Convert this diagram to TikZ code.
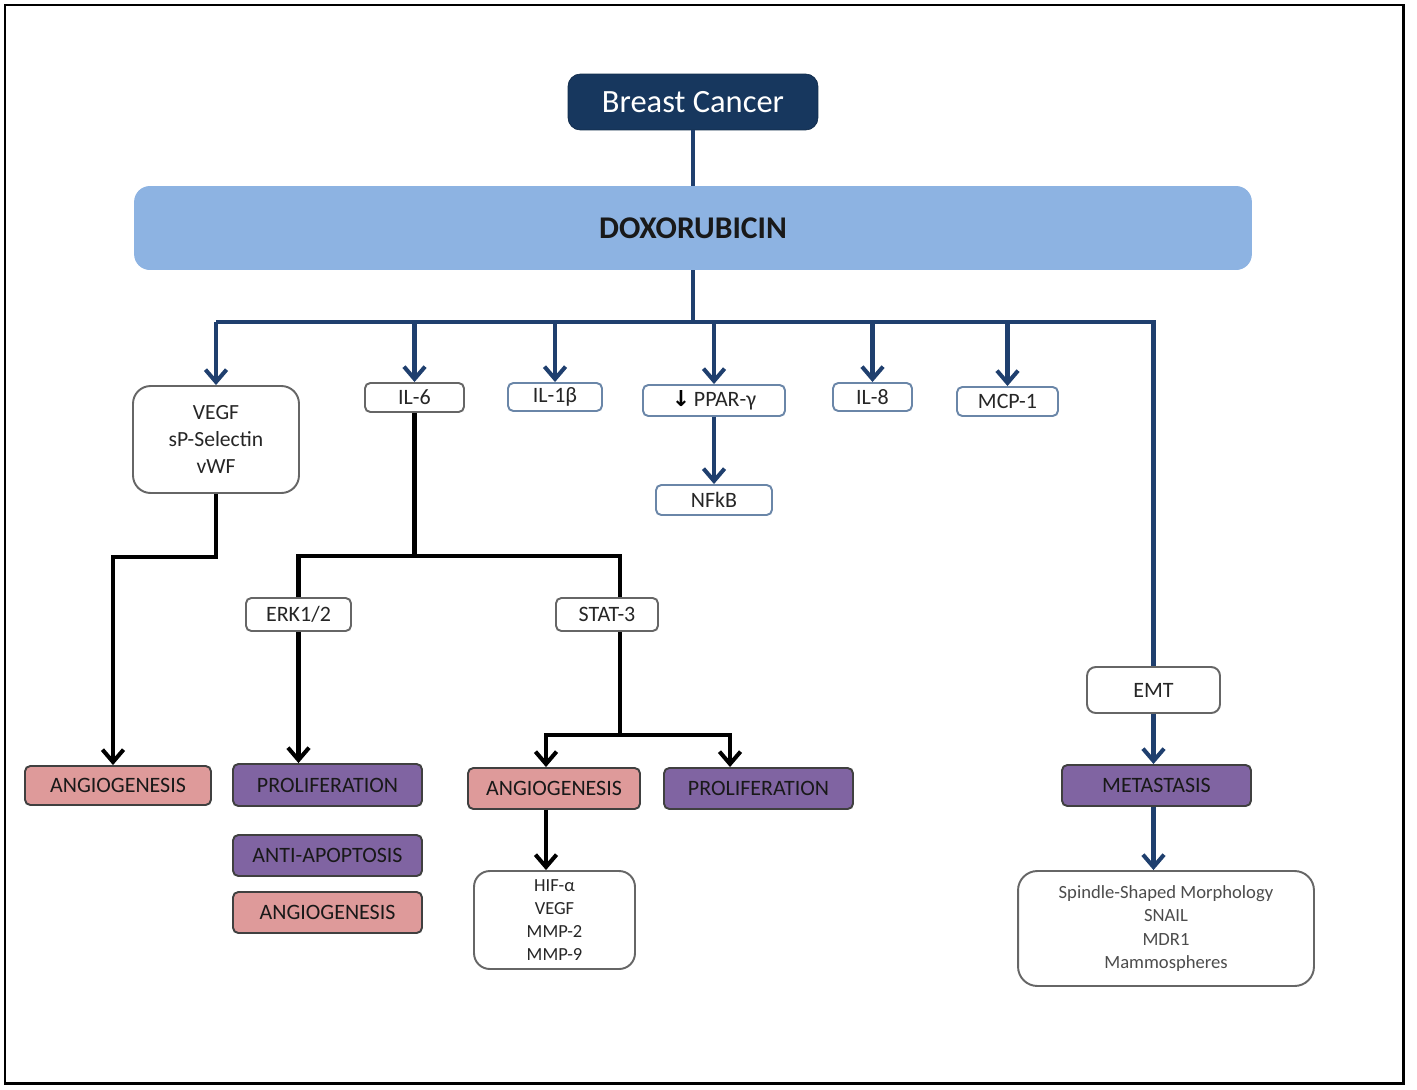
\documentclass[tikz,border=0pt]{standalone}
\usepackage{fontspec}
\setmainfont{Carlito}
\newfontfamily\symfont{DejaVu Sans}
\usetikzlibrary{arrows.meta}
\definecolor{navy}{HTML}{17375E}
\definecolor{doxblue}{HTML}{8DB3E2}
\definecolor{linkblue}{HTML}{1F3F6E}
\definecolor{rose}{HTML}{DE9A9A}
\definecolor{violet}{HTML}{8064A2}
\definecolor{edgeblue}{HTML}{6A86A8}
\begin{document}
\begin{tikzpicture}[x=0.02cm, y=-0.02cm,
    box/.style={draw=gray!80!black, line width=1.1pt, rounded corners=3pt, fill=white,
      inner sep=0pt, align=center, text=black!85, font=\fontsize{12.5}{15}\selectfont},
    bluebox/.style={box, draw=edgeblue},
    listbox/.style={box, rounded corners=9pt},
    effect/.style={box, draw=black!75, text=black!90},
    angio/.style={effect, fill=rose},
    prolif/.style={effect, fill=violet},
    bline/.style={draw=linkblue, line width=2.3pt},
    barrow/.style={bline, -{Straight Barb[length=7pt,width=12pt]}},
    kline/.style={draw=black, line width=2.3pt},
    karrow/.style={kline, -{Straight Barb[length=7pt,width=12pt]}}]
    \useasboundingbox (0,0) rectangle (1417,1089);
    \draw[line width=1.7pt] (5,5) rectangle (1403,1083);

    \node[draw=navy!80!black, fill=navy, rounded corners=7pt, inner sep=0pt,
      minimum width=5cm, minimum height=1.12cm, text=white,
      font=\fontsize{18.5}{22}\selectfont] (bc) at (693,102) {Breast Cancer};
    \node[fill=doxblue, rounded corners=9pt, inner sep=0pt, minimum width=22.36cm,
      minimum height=1.68cm, text=black!90,
      font=\fontsize{18}{22}\selectfont\bfseries] (dox) at (693,228) {DOXORUBICIN};

    \node[box, rounded corners=10pt, minimum width=3.32cm, minimum height=2.14cm,
      font=\fontsize{12.3}{15.6}\selectfont] (vegf) at (216,439.5) {VEGF\\sP-Selectin\\vWF};
    \node[box, minimum width=1.98cm, minimum height=0.58cm] (il6) at (414.5,397.5) {IL-6};
    \node[bluebox, minimum width=1.88cm, minimum height=0.56cm] (il1b) at (555,397) {IL-1β};
    \node[bluebox, minimum width=2.84cm, minimum height=0.62cm] (ppar) at (714,400.5)
      {{\symfont\bfseries\color{black}↓}\,PPAR-γ};
    \node[bluebox, minimum width=2.32cm, minimum height=0.6cm] (nfkb) at (714,500) {NFkB};
    \node[bluebox, minimum width=1.58cm, minimum height=0.56cm] (il8) at (872.5,397) {IL-8};
    \node[bluebox, minimum width=2.02cm, minimum height=0.58cm] (mcp) at (1007.5,401.5) {MCP-1};
    \node[box, rounded corners=5pt, minimum width=2.66cm, minimum height=0.92cm] (emt) at (1153.5,690) {EMT};
    \node[box, minimum width=2.1cm, minimum height=0.66cm] (erk) at (298.5,614.5) {ERK1/2};
    \node[box, minimum width=2.04cm, minimum height=0.66cm] (stat) at (607,614.5) {STAT-3};

    \node[angio, minimum width=3.72cm, minimum height=0.78cm] (ang1) at (118,785.5) {ANGIOGENESIS};
    \node[prolif, minimum width=3.78cm, minimum height=0.84cm] (prol1) at (327.5,785) {PROLIFERATION};
    \node[prolif, minimum width=3.78cm, minimum height=0.82cm] (anti) at (327.5,855.5) {ANTI-APOPTOSIS};
    \node[angio, minimum width=3.78cm, minimum height=0.82cm] (ang2) at (327.5,912.5) {ANGIOGENESIS};
    \node[angio, minimum width=3.44cm, minimum height=0.82cm] (ang3) at (554,788.5) {ANGIOGENESIS};
    \node[prolif, minimum width=3.78cm, minimum height=0.82cm] (prol2) at (758.5,788.5) {PROLIFERATION};
    \node[prolif, minimum width=3.78cm, minimum height=0.82cm] (meta) at (1156.5,785.5) {METASTASIS};

    \node[listbox, minimum width=3.22cm, minimum height=1.96cm,
      font=\fontsize{10.5}{13}\selectfont] (hif) at (554.5,920) {HIF-α\\VEGF\\MMP-2\\MMP-9};
    \node[listbox, rounded corners=11pt, minimum width=5.92cm, minimum height=2.3cm, text=black!70,
      font=\fontsize{10.6}{13.3}\selectfont] (morph) at (1166,928.5)
      {Spindle-Shaped Morphology\\SNAIL\\MDR1\\Mammospheres};

    \coordinate (bus) at (693,322);
    \coordinate (k1) at (113,557);
    \coordinate (k3) at (620,556);
    \coordinate (k4) at (620,735);
    \coordinate (k5) at (546,735);
    \coordinate (k6) at (730,735);

    \draw[bline] (bc) -- (dox);
    \draw[bline] (dox) -- (bus);
    \draw[bline] (vegf.north |- bus) -- (emt.north |- bus) -- (emt.north);
    \foreach \n in {vegf, il6, il1b, ppar, il8, mcp}
      \draw[barrow] (\n.north |- bus) -- (\n.north);
    \draw[barrow] (ppar) -- (nfkb);
    \draw[barrow] (emt) -- (emt.south |- meta.north);
    \draw[barrow] (emt.south |- meta.south) -- (emt.south |- morph.north);

    \draw[karrow] (vegf.south) |- (k1) -- (k1 |- ang1.north);
    \draw[kline] (il6) -- (il6.south |- k3);
    \draw[kline] (erk.north) |- (k3) -- (k3 |- stat.north);
    \draw[karrow] (erk) -- (erk.south |- prol1.north);
    \draw[kline] (k4 |- stat.south) -- (k4);
    \draw[karrow] (k4) -- (k5) -- (k5 |- ang3.north);
    \draw[karrow] (k4) -- (k6) -- (k6 |- prol2.north);
    \draw[karrow] (k5 |- ang3.south) -- (k5 |- hif.north);
\end{tikzpicture}
\end{document}
